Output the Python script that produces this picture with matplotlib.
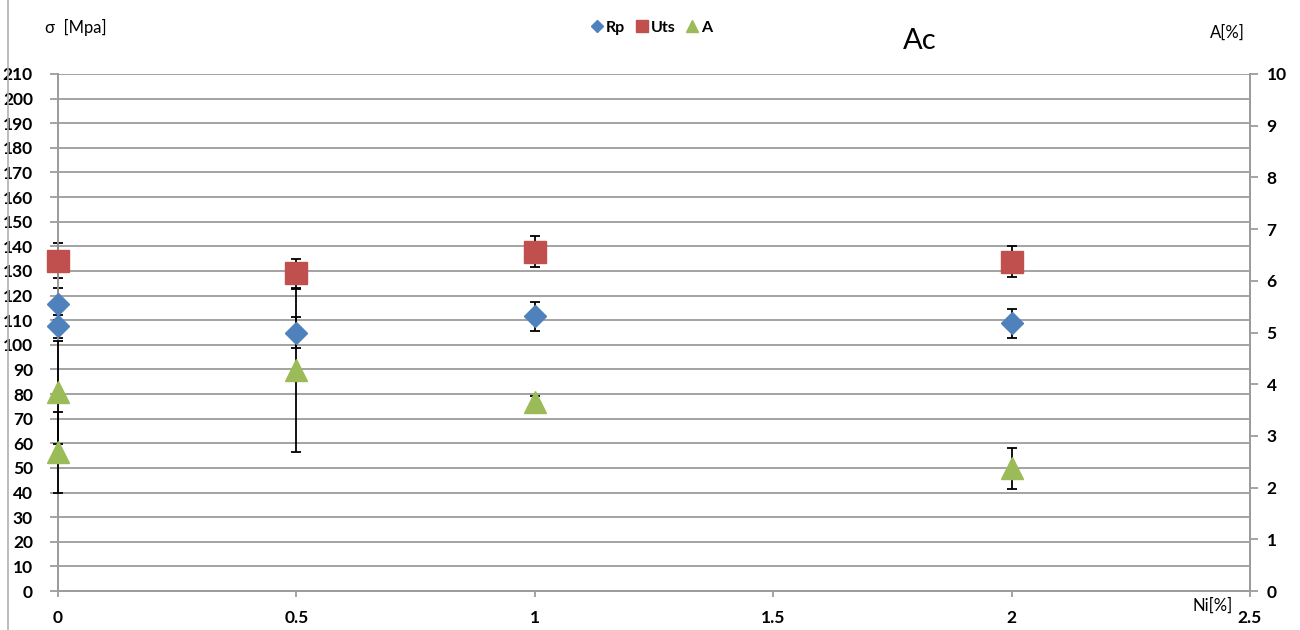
import matplotlib
matplotlib.use("Agg")
from matplotlib import pyplot as plt
from matplotlib.lines import Line2D

plt.rcParams['font.family'] = ['Lato', 'DejaVu Sans']

# Ni content [%] for each sample
rp_ni = [0, 0, 0.5, 1, 2]
rp = [116.5, 107.5, 105, 111.5, 108.7]
rp_err = [6.5, 4.7, 6.1, 6.0, 5.9]

uts_ni = [0, 0.5, 1, 2]
uts = [134.2, 129, 137.9, 133.8]
uts_err = [7.1, 5.8, 6.3, 6.3]

a_ni = [0, 0, 0.5, 1, 2]
a_pct = [3.84, 2.68, 4.27, 3.65, 2.37]
a_err = [1.0, 0.78, 1.58, 0.13, 0.4]

x_ticks = [0, 0.5, 1, 1.5, 2, 2.5]
x_labels = ["0", "0.5", "1", "1.5", "2", "2.5"]
sigma_ticks = list(range(0, 211, 10))
a_ticks = list(range(0, 11))

blu = "#4F81BD"
rosso = "#C0504D"
verde = "#9BBB59"
grigio = "#9C9C9C"


def barre(asse, x, y, err, z):
    cont = asse.errorbar(x, y, yerr=err, fmt="none", ecolor="black",
                         elinewidth=1.3, capsize=3.5, capthick=1.3, zorder=z)
    for art in cont.get_children():
        art.set_clip_on(False)
    return cont


fig = plt.figure(figsize=(13, 6.3), dpi=100)
ax = fig.add_axes([58 / 1300, 39 / 630, 1192 / 1300, 517 / 630])
ax2 = ax.twinx()

# griglia orizzontale sull'asse sinistro
ax.set_yticks(sigma_ticks)
ax.grid(axis="y", color=grigio, lw=1.3)
ax.set_axisbelow(True)

# barre d'errore di Rp e Uts sotto tutti i marker
barre(ax, rp_ni, rp, rp_err, 3)
barre(ax, uts_ni, uts, uts_err, 3)

# A sull'asse destro
barre(ax2, a_ni, a_pct, a_err, 2)
l_a, = ax2.plot(a_ni, a_pct, ls="none", marker="^", ms=16.5,
                color=verde, mec=verde, zorder=3, clip_on=False)
# marker di Rp e Uts disegnati sopra le barre di A
l_rp, = ax2.plot(rp_ni, rp, ls="none", marker="D", ms=11.7, color=blu,
                 mec=blu, zorder=3, transform=ax.transData, clip_on=False)
l_uts, = ax2.plot(uts_ni, uts, ls="none", marker="s", ms=16.5, color=rosso,
                  mec=rosso, zorder=3, transform=ax.transData, clip_on=False)

ax.set_xlim(0, 2.5)
ax.set_ylim(0, 210)
ax2.set_ylim(0, 10)
ax.set_xticks(x_ticks)
ax.set_xticklabels(x_labels)
ax2.set_yticks(a_ticks)

for a in (ax, ax2):
    for s in a.spines.values():
        s.set_color(grigio)
        s.set_linewidth(1.3)
        s.set_zorder(1)
    a.spines["top"].set_visible(False)

ax.tick_params(axis="y", length=6, width=1.3, color=grigio, pad=12,
               labelsize=12.5)
ax.tick_params(axis="x", length=4, width=1.3, color=grigio, pad=10,
               labelsize=12.5)
ax2.tick_params(axis="y", length=6, width=1.3, color=grigio, pad=6,
                labelsize=12.5)
for lab in ax.get_xticklabels() + ax.get_yticklabels() + ax2.get_yticklabels():
    lab.set_fontweight("bold")

fig.text(45 / 1300, 1 - 27 / 630, "σ  [Mpa]", fontsize=12, va="center")
fig.text(1210 / 1300, 1 - 33 / 630, "A[%]", fontsize=12, va="center")
fig.text(1192 / 1300, 1 - 606 / 630, "Ni[%]", fontsize=12, va="center")
fig.text(920 / 1300, 1 - 41 / 630, "Ac", fontsize=21, ha="center", va="center")

fig.legend([l_rp, l_uts, l_a], ["Rp", "Uts", "A"], loc="center",
           bbox_to_anchor=(652 / 1300, 1 - 28 / 630), ncol=3, frameon=False,
           markerscale=0.55, handlelength=0.7, handletextpad=0.2,
           columnspacing=0.7, prop={"weight": "bold", "size": 11.5})

# bordo sinistro del riquadro
fig.add_artist(Line2D([8 / 1300, 8 / 1300], [0, 1], color="#B0B0B0", lw=1.2,
                      transform=fig.transFigure))

fig.savefig("out.png", dpi=100)
